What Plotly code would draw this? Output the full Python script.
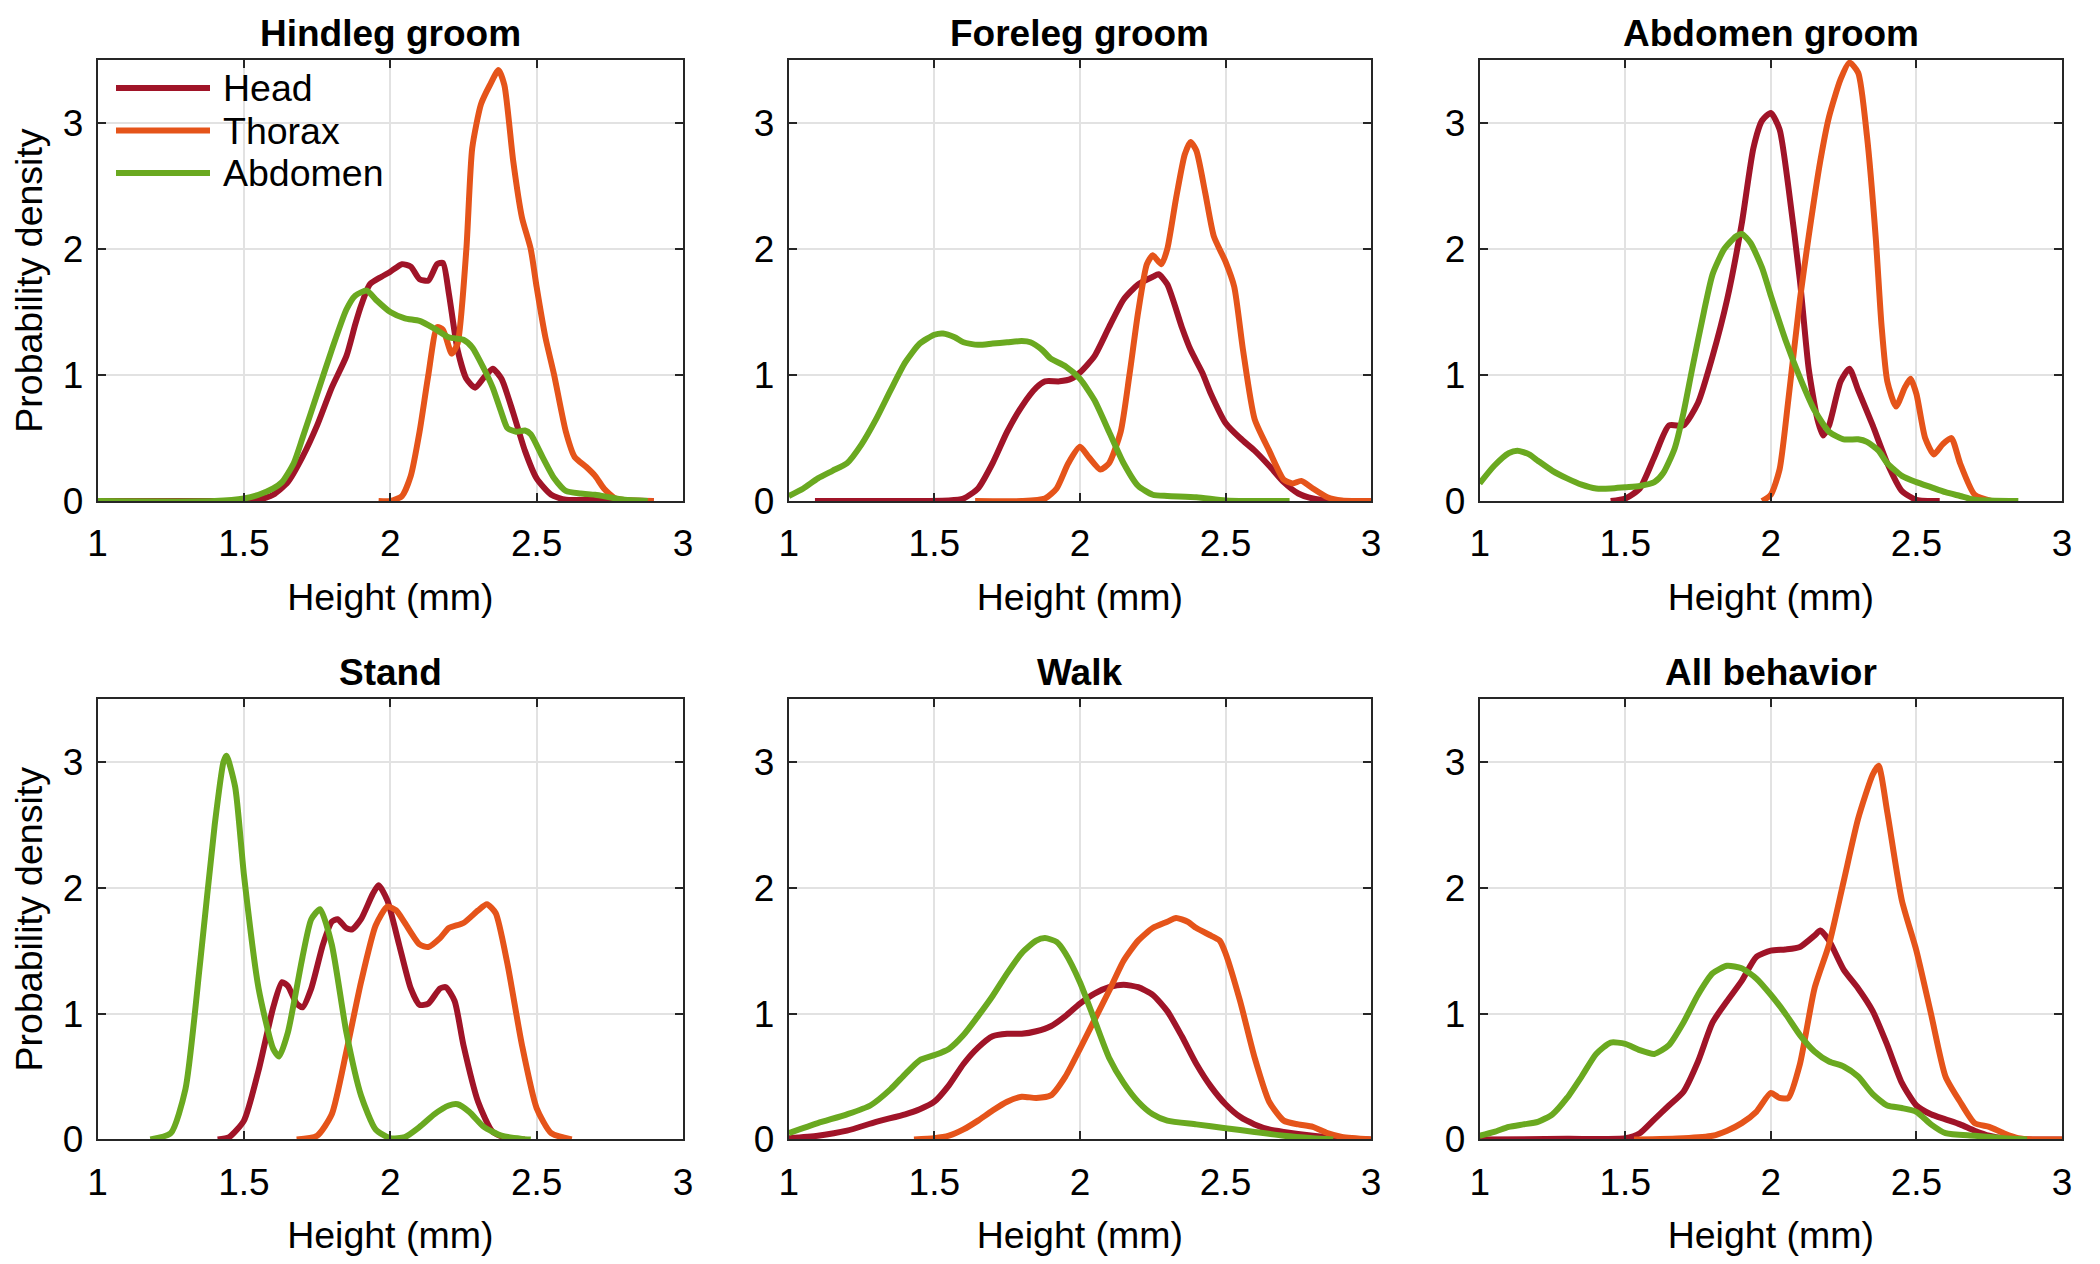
import plotly.graph_objects as go

# ---------------- data ----------------
panel_titles = ["Hindleg groom", "Foreleg groom", "Abdomen groom", "Stand", "Walk", "All behavior"]
series_names = ["Head", "Thorax", "Abdomen"]
x_ticks = [1, 1.5, 2, 2.5, 3]
y_ticks = [0, 1, 2, 3]

# Hindleg groom
hg_head_x = [1.0, 1.3, 1.5, 1.55, 1.6, 1.65, 1.7, 1.75, 1.8, 1.85, 1.88, 1.9, 1.93, 1.97, 2.0, 2.04, 2.07, 2.1, 2.13, 2.16, 2.18, 2.2, 2.23, 2.26, 2.29, 2.32, 2.35, 2.38, 2.42, 2.46, 2.5, 2.55, 2.6, 2.7, 2.8, 2.9]
hg_head_y = [0.0, 0.0, 0.003, 0.01, 0.05, 0.15, 0.35, 0.6, 0.9, 1.15, 1.4, 1.55, 1.72, 1.78, 1.82, 1.88, 1.86, 1.76, 1.75, 1.88, 1.89, 1.65, 1.2, 0.97, 0.9, 0.98, 1.05, 0.97, 0.7, 0.4, 0.18, 0.05, 0.01, 0.01, 0.005, 0.0]
hg_thor_x = [1.96, 2.0, 2.04, 2.07, 2.1, 2.13, 2.16, 2.18, 2.21, 2.23, 2.26, 2.28, 2.31, 2.34, 2.37, 2.39, 2.42, 2.45, 2.48, 2.5, 2.53, 2.56, 2.6, 2.63, 2.67, 2.7, 2.73, 2.77, 2.82, 2.9]
hg_thor_y = [0.0, 0.0, 0.04, 0.2, 0.55, 1.0, 1.38, 1.36, 1.17, 1.25, 2.0, 2.8, 3.15, 3.3, 3.42, 3.3, 2.7, 2.25, 2.0, 1.7, 1.3, 1.0, 0.55, 0.35, 0.27, 0.2, 0.1, 0.02, 0.005, 0.0]
hg_abd_x = [1.0, 1.4, 1.5, 1.55, 1.6, 1.63, 1.67, 1.7, 1.75, 1.8, 1.85, 1.88, 1.92, 1.95, 2.0, 2.05, 2.1, 2.15, 2.2, 2.25, 2.28, 2.32, 2.35, 2.38, 2.4, 2.43, 2.46, 2.48, 2.52, 2.56, 2.6, 2.65, 2.7, 2.75, 2.8, 2.88]
hg_abd_y = [0.0, 0.0, 0.02, 0.05, 0.1, 0.15, 0.3, 0.5, 0.85, 1.2, 1.52, 1.63, 1.67, 1.6, 1.5, 1.45, 1.43, 1.37, 1.3, 1.28, 1.22, 1.05, 0.9, 0.7, 0.58, 0.55, 0.56, 0.53, 0.35, 0.18, 0.08, 0.06, 0.05, 0.03, 0.01, 0.0]

# Foreleg groom
fg_head_x = [1.09, 1.3, 1.55, 1.6, 1.65, 1.7, 1.75, 1.8, 1.85, 1.88, 1.93, 1.97, 2.0, 2.05, 2.1, 2.15, 2.2, 2.25, 2.27, 2.3, 2.35, 2.38, 2.42, 2.45, 2.5, 2.55, 2.6, 2.65, 2.7, 2.75, 2.8, 2.85, 2.9, 3.0]
fg_head_y = [0.0, 0.0, 0.005, 0.02, 0.1, 0.3, 0.55, 0.75, 0.9, 0.95, 0.95, 0.97, 1.02, 1.15, 1.38, 1.6, 1.72, 1.78, 1.8, 1.72, 1.38, 1.2, 1.02, 0.85, 0.62, 0.5, 0.4, 0.28, 0.15, 0.06, 0.02, 0.005, 0.0, 0.0]
fg_thor_x = [1.64, 1.8, 1.88, 1.92, 1.96, 2.0, 2.03, 2.07, 2.1, 2.14, 2.17, 2.2, 2.23, 2.25, 2.28, 2.3, 2.33, 2.36, 2.38, 2.4, 2.43, 2.46, 2.5, 2.53, 2.56, 2.6, 2.65, 2.7, 2.73, 2.76, 2.8, 2.85, 2.9, 3.0]
fg_thor_y = [0.0, 0.0, 0.02, 0.1, 0.3, 0.43, 0.35, 0.25, 0.3, 0.55, 1.0, 1.5, 1.88, 1.95, 1.88, 2.0, 2.4, 2.75, 2.85, 2.78, 2.45, 2.1, 1.9, 1.7, 1.2, 0.65, 0.4, 0.17, 0.14, 0.16, 0.1, 0.03, 0.005, 0.0]
fg_abd_x = [1.0, 1.05, 1.1, 1.15, 1.2, 1.25, 1.3, 1.35, 1.4, 1.45, 1.5, 1.53, 1.57, 1.6, 1.65, 1.7, 1.75, 1.8, 1.83, 1.87, 1.9, 1.95, 2.0, 2.05, 2.1, 2.15, 2.2, 2.25, 2.3, 2.4, 2.5, 2.6, 2.72]
fg_abd_y = [0.04, 0.1, 0.18, 0.24, 0.3, 0.45, 0.65, 0.88, 1.1, 1.25, 1.32, 1.33, 1.3, 1.26, 1.24, 1.25, 1.26, 1.27, 1.26, 1.2, 1.13, 1.07, 0.97, 0.8, 0.55, 0.3, 0.12, 0.05, 0.04, 0.03, 0.005, 0.0, 0.0]

# Abdomen groom
ag_head_x = [1.45, 1.5, 1.55, 1.6, 1.65, 1.7, 1.75, 1.8, 1.85, 1.9, 1.94, 1.97, 2.0, 2.03, 2.06, 2.1, 2.13, 2.16, 2.18, 2.2, 2.24, 2.27, 2.3, 2.35, 2.4, 2.45, 2.5, 2.58]
ag_head_y = [0.0, 0.02, 0.1, 0.35, 0.6, 0.6, 0.78, 1.15, 1.6, 2.2, 2.8, 3.02, 3.08, 2.95, 2.5, 1.75, 1.05, 0.65, 0.52, 0.6, 0.95, 1.05, 0.88, 0.6, 0.3, 0.08, 0.01, 0.0]
ag_thor_x = [1.97, 2.0, 2.03, 2.06, 2.1, 2.13, 2.17, 2.2, 2.24, 2.27, 2.3, 2.33, 2.36, 2.38, 2.4, 2.43, 2.46, 2.48, 2.5, 2.53, 2.56, 2.59, 2.62, 2.65, 2.7, 2.76]
ag_thor_y = [0.0, 0.05, 0.25, 0.8, 1.6, 2.1, 2.7, 3.05, 3.35, 3.48, 3.4, 2.9, 2.1, 1.4, 0.95, 0.75, 0.9, 0.97, 0.85, 0.5, 0.37, 0.45, 0.5, 0.3, 0.05, 0.0]
ag_abd_x = [1.0, 1.05, 1.1, 1.13, 1.17, 1.2, 1.25, 1.3, 1.35, 1.4, 1.45, 1.5, 1.55, 1.6, 1.63, 1.67, 1.7, 1.73, 1.77, 1.8, 1.84, 1.88, 1.9, 1.93, 1.97, 2.0, 2.05, 2.1, 2.15, 2.2, 2.25, 2.3, 2.33, 2.37, 2.4, 2.45, 2.5, 2.55, 2.6, 2.65, 2.7, 2.85]
ag_abd_y = [0.14, 0.28, 0.38, 0.4, 0.37, 0.32, 0.24, 0.18, 0.13, 0.1, 0.1, 0.11, 0.12, 0.15, 0.22, 0.42, 0.7, 1.05, 1.5, 1.8, 2.0, 2.1, 2.12, 2.05, 1.85, 1.63, 1.28, 0.98, 0.72, 0.55, 0.49, 0.49, 0.47, 0.4, 0.3, 0.2, 0.15, 0.11, 0.07, 0.04, 0.01, 0.0]

# Stand
st_head_x = [1.41, 1.45, 1.5, 1.55, 1.6, 1.63, 1.65, 1.68, 1.7, 1.73, 1.77, 1.8, 1.82, 1.85, 1.87, 1.9, 1.94, 1.96, 1.99, 2.03, 2.07, 2.1, 2.13, 2.17, 2.19, 2.22, 2.25, 2.3, 2.35, 2.4, 2.46]
st_head_y = [0.0, 0.02, 0.15, 0.55, 1.05, 1.25, 1.22, 1.08, 1.05, 1.2, 1.55, 1.73, 1.75, 1.68, 1.67, 1.75, 1.95, 2.02, 1.9, 1.55, 1.2, 1.07, 1.08, 1.2, 1.21, 1.1, 0.75, 0.3, 0.06, 0.01, 0.0]
st_thor_x = [1.68, 1.75, 1.8, 1.85, 1.9, 1.95, 1.99, 2.02, 2.05, 2.1, 2.13, 2.17, 2.2, 2.25, 2.3, 2.33, 2.36, 2.4, 2.45, 2.5, 2.55, 2.62]
st_thor_y = [0.0, 0.03, 0.2, 0.7, 1.25, 1.7, 1.85, 1.82, 1.72, 1.55, 1.53, 1.6, 1.68, 1.72, 1.82, 1.87, 1.8, 1.4, 0.75, 0.25, 0.05, 0.0]
st_abd_x = [1.18, 1.25, 1.3, 1.35, 1.4, 1.43, 1.44, 1.47, 1.5, 1.55, 1.6, 1.62, 1.65, 1.7, 1.73, 1.76, 1.8, 1.85, 1.9, 1.95, 2.0, 2.05, 2.1, 2.15, 2.2, 2.23, 2.27, 2.32, 2.38, 2.45, 2.48]
st_abd_y = [0.0, 0.05, 0.4, 1.4, 2.5, 3.0, 3.05, 2.8, 2.1, 1.2, 0.72, 0.66, 0.85, 1.45, 1.75, 1.83, 1.55, 0.85, 0.35, 0.08, 0.01, 0.02, 0.1, 0.2, 0.27, 0.28, 0.22, 0.1, 0.03, 0.005, 0.0]

# Walk
wk_head_x = [1.0, 1.1, 1.2, 1.3, 1.4, 1.45, 1.5, 1.55, 1.6, 1.65, 1.7, 1.75, 1.8, 1.85, 1.9, 1.95, 2.0, 2.05, 2.1, 2.15, 2.2, 2.25, 2.3, 2.35, 2.4, 2.45, 2.5, 2.55, 2.6, 2.65, 2.7, 2.8, 2.9, 3.0]
wk_head_y = [0.01, 0.03, 0.07, 0.14, 0.2, 0.24, 0.3, 0.43, 0.6, 0.73, 0.82, 0.84, 0.84, 0.86, 0.9, 0.98, 1.08, 1.16, 1.21, 1.23, 1.21, 1.15, 1.02, 0.82, 0.6, 0.42, 0.28, 0.18, 0.12, 0.08, 0.06, 0.03, 0.01, 0.0]
wk_thor_x = [1.43, 1.5, 1.55, 1.6, 1.65, 1.7, 1.75, 1.8, 1.85, 1.9, 1.95, 2.0, 2.05, 2.1, 2.15, 2.2, 2.25, 2.3, 2.33, 2.37, 2.4, 2.45, 2.48, 2.5, 2.55, 2.6, 2.65, 2.7, 2.75, 2.8, 2.85, 2.9, 3.0]
wk_thor_y = [0.0, 0.01, 0.03, 0.08, 0.15, 0.23, 0.3, 0.34, 0.33, 0.35, 0.5, 0.72, 0.95, 1.18, 1.42, 1.58, 1.68, 1.73, 1.76, 1.73, 1.68, 1.62, 1.58, 1.48, 1.1, 0.65, 0.3, 0.15, 0.12, 0.1, 0.05, 0.02, 0.0]
wk_abd_x = [1.0, 1.1, 1.2, 1.28, 1.35, 1.4, 1.45, 1.5, 1.55, 1.6, 1.65, 1.7, 1.75, 1.8, 1.85, 1.88, 1.92, 1.95, 2.0, 2.05, 2.1, 2.15, 2.2, 2.25, 2.3, 2.4, 2.5, 2.6, 2.7, 2.8, 2.87]
wk_abd_y = [0.05, 0.13, 0.2, 0.27, 0.4, 0.52, 0.63, 0.67, 0.72, 0.83, 0.98, 1.14, 1.32, 1.48, 1.58, 1.6, 1.57, 1.48, 1.25, 0.95, 0.65, 0.45, 0.3, 0.2, 0.15, 0.12, 0.09, 0.06, 0.03, 0.01, 0.0]

# All behavior
ab_head_x = [1.0, 1.3, 1.5, 1.55, 1.6, 1.65, 1.7, 1.75, 1.8, 1.85, 1.9, 1.95, 2.0, 2.05, 2.1, 2.15, 2.17, 2.2, 2.25, 2.3, 2.35, 2.4, 2.45, 2.5, 2.55, 2.6, 2.65, 2.7, 2.75, 2.8, 2.9, 3.0]
ab_head_y = [0.0, 0.005, 0.01, 0.05, 0.16, 0.27, 0.38, 0.62, 0.93, 1.1, 1.26, 1.45, 1.5, 1.51, 1.53, 1.62, 1.66, 1.58, 1.35, 1.2, 1.02, 0.75, 0.45, 0.27, 0.2, 0.16, 0.12, 0.07, 0.03, 0.01, 0.0, 0.0]
ab_thor_x = [1.53, 1.7, 1.8, 1.85, 1.9, 1.95, 2.0, 2.03, 2.06, 2.1, 2.15, 2.2, 2.25, 2.3, 2.35, 2.37, 2.4, 2.45, 2.5, 2.55, 2.6, 2.65, 2.7, 2.75, 2.8, 2.85, 2.9, 3.0]
ab_thor_y = [0.0, 0.01, 0.03, 0.07, 0.13, 0.22, 0.37, 0.33, 0.33, 0.6, 1.2, 1.55, 2.05, 2.55, 2.9, 2.97, 2.6, 1.9, 1.5, 1.0, 0.5, 0.3, 0.13, 0.1, 0.05, 0.01, 0.0, 0.0]
ab_abd_x = [1.0, 1.05, 1.1, 1.15, 1.2, 1.25, 1.3, 1.35, 1.4, 1.45, 1.5, 1.55, 1.6, 1.65, 1.7, 1.75, 1.8, 1.85, 1.9, 1.95, 2.0, 2.05, 2.1, 2.15, 2.2, 2.25, 2.3, 2.35, 2.4, 2.45, 2.5, 2.55, 2.6, 2.7, 2.8, 2.88]
ab_abd_y = [0.03, 0.06, 0.1, 0.12, 0.14, 0.2, 0.33, 0.5, 0.68, 0.77, 0.76, 0.71, 0.68, 0.75, 0.93, 1.15, 1.32, 1.38, 1.36, 1.28, 1.15, 1.0, 0.83, 0.7, 0.62, 0.58, 0.5, 0.36, 0.27, 0.25, 0.22, 0.12, 0.05, 0.03, 0.01, 0.0]

panels = [
    [(hg_head_x, hg_head_y), (hg_thor_x, hg_thor_y), (hg_abd_x, hg_abd_y)],
    [(fg_head_x, fg_head_y), (fg_thor_x, fg_thor_y), (fg_abd_x, fg_abd_y)],
    [(ag_head_x, ag_head_y), (ag_thor_x, ag_thor_y), (ag_abd_x, ag_abd_y)],
    [(st_head_x, st_head_y), (st_thor_x, st_thor_y), (st_abd_x, st_abd_y)],
    [(wk_head_x, wk_head_y), (wk_thor_x, wk_thor_y), (wk_abd_x, wk_abd_y)],
    [(ab_head_x, ab_head_y), (ab_thor_x, ab_thor_y), (ab_abd_x, ab_abd_y)],
]

# ---------------- styling ----------------
colors = ["#A01428", "#E5541A", "#6AA920"]
FONT = "Liberation Sans, Arial, sans-serif"
W, H = 2100, 1264
col_domains = [[0.0465, 0.3252], [0.3756, 0.6529], [0.7046, 0.9819]]
row_domains = [[0.6036, 0.9525], [0.0985, 0.4470]]

fig = go.Figure()
for p, curves in enumerate(panels):
    ax = "" if p == 0 else str(p + 1)
    for s, (xs, ys) in enumerate(curves):
        fig.add_trace(go.Scatter(
            x=xs, y=ys, mode="lines", name=series_names[s],
            line=dict(color=colors[s], width=6, shape="spline", smoothing=0.6),
            xaxis="x" + ax, yaxis="y" + ax,
            showlegend=False,
        ))

layout = dict(
    width=W, height=H,
    margin=dict(l=0, r=0, t=0, b=0, autoexpand=False),
    paper_bgcolor="white", plot_bgcolor="white",
    font=dict(family=FONT, size=37, color="black"),
    showlegend=False,
)
annotations = []
shapes = []
for p in range(6):
    r, c = divmod(p, 3)
    ax = "" if p == 0 else str(p + 1)
    xa = dict(
        domain=col_domains[c], anchor="y" + ax, range=[1, 3], automargin=False,
        tickvals=x_ticks, ticktext=[f"{v:g}" for v in x_ticks],
        ticks="inside", ticklen=8, tickwidth=1.5, tickcolor="#262626",
        showline=True, linecolor="#262626", linewidth=2, mirror="ticks",
        showgrid=True, gridcolor="#E2E2E2", gridwidth=1.5, zeroline=False,
        tickfont=dict(family=FONT, size=37, color="black"),
        ticklabelstandoff=9,
        title=dict(text="Height (mm)", font=dict(family=FONT, size=37.5, color="black"), standoff=20),
    )
    ya = dict(
        domain=row_domains[r], anchor="x" + ax, range=[0, 3.5], automargin=False,
        tickvals=y_ticks, ticktext=[str(v) for v in y_ticks],
        ticks="inside", ticklen=8, tickwidth=1.5, tickcolor="#262626",
        showline=True, linecolor="#262626", linewidth=2, mirror="ticks",
        showgrid=True, gridcolor="#E2E2E2", gridwidth=1.5, zeroline=False,
        tickfont=dict(family=FONT, size=37, color="black"),
        ticklabelstandoff=5,
    )
    if c == 0:
        ya["title"] = dict(text="Probability density", font=dict(family=FONT, size=37.5, color="black"), standoff=9)
    layout["xaxis" + ax] = xa
    layout["yaxis" + ax] = ya
    annotations.append(dict(
        text=panel_titles[p], xref="paper", yref="paper",
        x=sum(col_domains[c]) / 2, y=row_domains[r][1],
        xanchor="center", yanchor="bottom", yshift=4, showarrow=False,
        font=dict(family=FONT, size=37, color="black", weight="bold"),
    ))

# legend (drawn inside the first panel, transparent, no box)
leg_x0, leg_x1, leg_text_x = 116, 210, 221
leg_y0, leg_dy = 88, 42.5
for s, name in enumerate(series_names):
    yy = 1 - (leg_y0 + s * leg_dy) / H
    shapes.append(dict(type="line", xref="paper", yref="paper",
                       x0=leg_x0 / W, x1=leg_x1 / W, y0=yy, y1=yy,
                       line=dict(color=colors[s], width=6), layer="above"))
    annotations.append(dict(
        text=name, xref="paper", yref="paper", x=leg_text_x / W, y=yy,
        xanchor="left", yanchor="middle", showarrow=False,
        font=dict(family=FONT, size=37.5, color="black"),
    ))

layout["annotations"] = annotations
layout["shapes"] = shapes
fig.update_layout(**layout)
fig.write_html("out.html", config={"displayModeBar": False},
               post_script="document.body.style.margin='0';document.body.style.padding='0';")
